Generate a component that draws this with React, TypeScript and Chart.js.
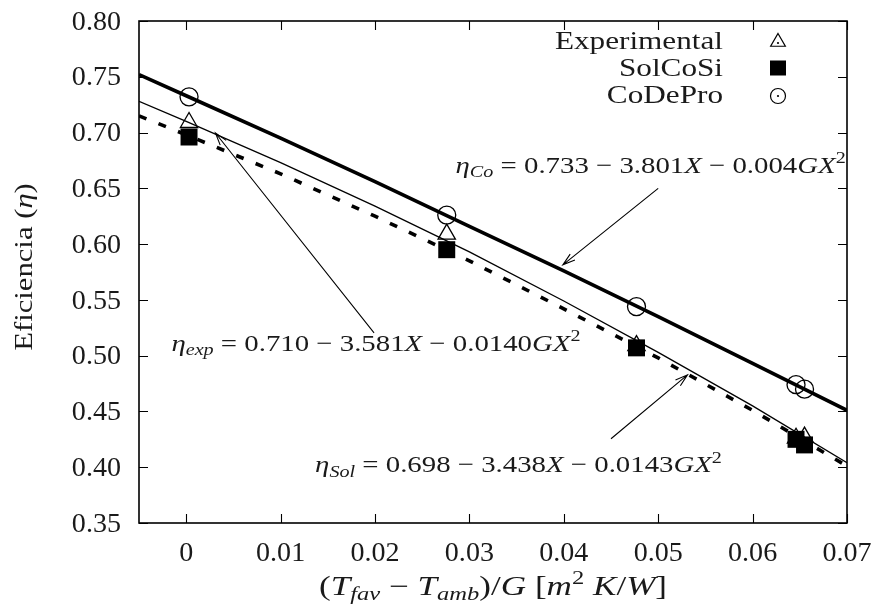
import React, { useEffect, useRef } from 'react';
import { Chart, registerables } from 'chart.js';

Chart.register(...registerables);

// ---- data ----
const X_TICKS = [0, 0.01, 0.02, 0.03, 0.04, 0.05, 0.06, 0.07];
const X_TICK_LABELS = ['0', '0.01', '0.02', '0.03', '0.04', '0.05', '0.06', '0.07'];
const Y_TICKS = [0.35, 0.4, 0.45, 0.5, 0.55, 0.6, 0.65, 0.7, 0.75, 0.8];
const Y_TICK_LABELS = ['0.35', '0.40', '0.45', '0.50', '0.55', '0.60', '0.65', '0.70', '0.75', '0.80'];

const MEAS_X = [0.0003, 0.0276, 0.0477, 0.0646, 0.0655];
const EXP_Y = [0.709, 0.609, 0.509, 0.426, 0.427];
const SOL_Y = [0.696, 0.595, 0.507, 0.425, 0.42];
const CO_Y = [0.732, 0.626, 0.544, 0.474, 0.47];

const FIT_X = [-0.005, 0, 0.01, 0.02, 0.03, 0.04, 0.05, 0.06, 0.07];
const FIT_CO = [0.752, 0.733, 0.695, 0.656, 0.616, 0.576, 0.535, 0.493, 0.451];
const FIT_EXP = [0.728, 0.71, 0.673, 0.634, 0.593, 0.549, 0.503, 0.455, 0.404];
const FIT_SOL = [0.715, 0.698, 0.663, 0.625, 0.585, 0.542, 0.498, 0.451, 0.401];

const LEGEND_LABELS = ['Experimental', 'SolCoSi', 'CoDePro'];

type Seg = { t: string; it?: boolean; sub?: boolean; sup?: boolean };

const LABEL_CO: Seg[] = [
  { t: 'η', it: true }, { t: 'Co', it: true, sub: true }, { t: ' = 0.733 − 3.801' },
  { t: 'X', it: true }, { t: ' − 0.004' }, { t: 'GX', it: true }, { t: '2', sup: true },
];
const LABEL_EXP: Seg[] = [
  { t: 'η', it: true }, { t: 'exp', it: true, sub: true }, { t: ' = 0.710 − 3.581' },
  { t: 'X', it: true }, { t: ' − 0.0140' }, { t: 'GX', it: true }, { t: '2', sup: true },
];
const LABEL_SOL: Seg[] = [
  { t: 'η', it: true }, { t: 'Sol', it: true, sub: true }, { t: ' = 0.698 − 3.438' },
  { t: 'X', it: true }, { t: ' − 0.0143' }, { t: 'GX', it: true }, { t: '2', sup: true },
];
const X_TITLE: Seg[] = [
  { t: '(' }, { t: 'T', it: true }, { t: 'fav', it: true, sub: true }, { t: ' − ' },
  { t: 'T', it: true }, { t: 'amb', it: true, sub: true }, { t: ')/' }, { t: 'G', it: true },
  { t: ' [' }, { t: 'm', it: true }, { t: '2', sup: true }, { t: ' ' }, { t: 'K', it: true },
  { t: '/' }, { t: 'W', it: true }, { t: ']' },
];
const Y_TITLE: Seg[] = [{ t: 'Eficiencia (' }, { t: 'η', it: true }, { t: ')' }];

// annotations in data coordinates
const ANNOTATIONS = [
  { segs: LABEL_CO, at: [0.0492, 0.671], from: [0.05, 0.65], to: [0.0399, 0.5814] },
  { segs: LABEL_EXP, at: [0.0201, 0.5115], from: [0.0199, 0.5204], to: [0.0031, 0.6996] },
  { segs: LABEL_SOL, at: [0.0352, 0.4025], from: [0.045, 0.4255], to: [0.0531, 0.4828] },
];

const FONT = '"Liberation Serif", "Times New Roman", serif';
const TXT = '#1a1a1a';

function segFont(s: Seg, size: number) {
  const sz = s.sub || s.sup ? size * 0.7 : size;
  return `${s.it ? 'italic ' : ''}${sz}px ${FONT}`;
}

function richWidth(ctx: CanvasRenderingContext2D, segs: Seg[], size: number) {
  let w = 0;
  for (const s of segs) {
    ctx.font = segFont(s, size);
    w += ctx.measureText(s.t).width;
  }
  return w;
}

// align: 0 = left, 0.5 = centre, 1 = right
function drawRich(ctx: CanvasRenderingContext2D, segs: Seg[], cx: number, cy: number, size: number, stretch: number, align = 0.5) {
  const w = richWidth(ctx, segs, size) * stretch;
  ctx.save();
  ctx.translate(cx - w * align, cy);
  ctx.scale(stretch, 1);
  ctx.fillStyle = TXT;
  ctx.textAlign = 'left';
  ctx.textBaseline = 'alphabetic';
  const base = size * 0.32;
  let x = 0;
  for (const s of segs) {
    ctx.font = segFont(s, size);
    const dy = s.sub ? size * 0.2 : s.sup ? -size * 0.4 : 0;
    ctx.fillText(s.t, x, base + dy);
    x += ctx.measureText(s.t).width;
  }
  ctx.restore();
}

function drawArrow(ctx: CanvasRenderingContext2D, x1: number, y1: number, x2: number, y2: number) {
  const ang = Math.atan2(y2 - y1, x2 - x1);
  const len = 13;
  const spread = (17 * Math.PI) / 180;
  ctx.beginPath();
  ctx.moveTo(x1, y1);
  ctx.lineTo(x2, y2);
  ctx.moveTo(x2 - len * Math.cos(ang - spread), y2 - len * Math.sin(ang - spread));
  ctx.lineTo(x2, y2);
  ctx.lineTo(x2 - len * Math.cos(ang + spread), y2 - len * Math.sin(ang + spread));
  ctx.stroke();
}

const decorPlugin = {
  id: 'decor',
  afterDatasetsDraw(chart: any) {
    const { ctx, chartArea: a } = chart;
    const xs = chart.scales.x;
    const ys = chart.scales.y;
    ctx.save();

    // arrows
    ctx.strokeStyle = '#000';
    ctx.lineWidth = 1.1;
    for (const an of ANNOTATIONS) {
      drawArrow(
        ctx,
        xs.getPixelForValue(an.from[0]), ys.getPixelForValue(an.from[1]),
        xs.getPixelForValue(an.to[0]), ys.getPixelForValue(an.to[1])
      );
    }
    // equation labels
    for (const an of ANNOTATIONS) {
      drawRich(ctx, an.segs, xs.getPixelForValue(an.at[0]), ys.getPixelForValue(an.at[1]), 24, 1.2);
    }

    // frame
    ctx.strokeStyle = '#000';
    ctx.lineWidth = 1.6;
    ctx.strokeRect(a.left, a.top, a.right - a.left, a.bottom - a.top);
    ctx.lineWidth = 1.1;
    ctx.beginPath();
    for (const v of X_TICKS) {
      const px = Math.round(xs.getPixelForValue(v)) + 0.5;
      ctx.moveTo(px, a.bottom); ctx.lineTo(px, a.bottom - 9);
      ctx.moveTo(px, a.top); ctx.lineTo(px, a.top + 9);
    }
    for (const v of Y_TICKS) {
      const py = Math.round(ys.getPixelForValue(v)) + 0.5;
      ctx.moveTo(a.left, py); ctx.lineTo(a.left + 9, py);
      ctx.moveTo(a.right, py); ctx.lineTo(a.right - 9, py);
    }
    ctx.stroke();

    // tick labels
    X_TICKS.forEach((v, i) => {
      drawRich(ctx, [{ t: X_TICK_LABELS[i] }], xs.getPixelForValue(v), a.bottom + 29, 27, 1.04);
    });
    Y_TICKS.forEach((v, i) => {
      drawRich(ctx, [{ t: Y_TICK_LABELS[i] }], a.left - 18, ys.getPixelForValue(v), 27, 1.04, 1);
    });

    // legend (key, top right)
    const textRight = a.right - 124;
    const symX = a.right - 69;
    const rows = [a.top + 20, a.top + 47, a.top + 74];
    rows.forEach((ry, i) => {
      drawRich(ctx, [{ t: LEGEND_LABELS[i] }], textRight, ry, 26, 1.2, 1);
    });
    ctx.strokeStyle = '#000';
    ctx.fillStyle = '#000';
    ctx.lineWidth = 1.2;
    // triangle
    {
      const cy = rows[0] + 1;
      const r = 8.5;
      ctx.beginPath();
      ctx.moveTo(symX, cy - r);
      ctx.lineTo(symX + r * 0.866, cy + r * 0.5);
      ctx.lineTo(symX - r * 0.866, cy + r * 0.5);
      ctx.closePath();
      ctx.stroke();
      ctx.beginPath();
      ctx.arc(symX, cy + 1, 1.1, 0, Math.PI * 2);
      ctx.fill();
    }
    // square
    ctx.fillRect(symX - 8, rows[1] - 7.5, 16, 15);
    // circle
    {
      const cy = rows[2] + 1;
      ctx.beginPath();
      ctx.arc(symX, cy, 7.5, 0, Math.PI * 2);
      ctx.stroke();
      ctx.beginPath();
      ctx.arc(symX, cy, 1.1, 0, Math.PI * 2);
      ctx.fill();
    }

    // axis titles
    drawRich(ctx, X_TITLE, (a.left + a.right) / 2, a.bottom + 63, 27, 1.3);
    ctx.save();
    ctx.translate(a.left - 115, (a.top + a.bottom) / 2 - 5);
    ctx.rotate(-Math.PI / 2);
    drawRich(ctx, Y_TITLE, 0, 0, 26, 1.18);
    ctx.restore();

    ctx.restore();
  },
};

function pts(xs: number[], ys: number[]) {
  return xs.map((x, i) => ({ x, y: ys[i] }));
}

export default function App() {
  const ref = useRef<HTMLCanvasElement | null>(null);
  useEffect(() => {
    if (!ref.current) return;
    const chart = new Chart(ref.current, {
      type: 'scatter',
      data: {
        datasets: [
          {
            label: 'fitCo', data: pts(FIT_X, FIT_CO), showLine: true, borderColor: '#000',
            borderWidth: 3.6, pointRadius: 0, fill: false, order: 10,
          },
          {
            label: 'fitExp', data: pts(FIT_X, FIT_EXP), showLine: true, borderColor: '#000',
            borderWidth: 1.3, pointRadius: 0, fill: false, order: 10,
          },
          {
            label: 'fitSol', data: pts(FIT_X, FIT_SOL), showLine: true, borderColor: '#000',
            borderWidth: 3.6, borderDash: [8, 13], borderCapStyle: 'butt', pointRadius: 0, fill: false, order: 10,
          },
          {
            label: 'Experimental', data: pts(MEAS_X, EXP_Y), pointStyle: 'triangle', pointRadius: 10,
            borderColor: '#000', backgroundColor: 'rgba(0,0,0,0)', pointBorderWidth: 1.3, order: 3,
          },
          {
            label: 'SolCoSi', data: pts(MEAS_X, SOL_Y), pointStyle: 'rect', pointRadius: 12,
            borderColor: '#000', backgroundColor: '#000', pointBorderWidth: 0, order: 2,
          },
          {
            label: 'CoDePro', data: pts(MEAS_X, CO_Y), pointStyle: 'circle', pointRadius: 9,
            borderColor: '#000', backgroundColor: 'rgba(0,0,0,0)', pointBorderWidth: 1.3, order: 1,
          },
        ] as any,
      },
      options: {
        animation: false,
        responsive: false,
        devicePixelRatio: 1,
        layout: { padding: { left: 0, top: 21, right: 28, bottom: 0 } },
        plugins: { legend: { display: false }, tooltip: { enabled: false } },
        scales: {
          x: {
            type: 'linear', min: -0.005, max: 0.07,
            grid: { display: false, drawTicks: false }, border: { display: false },
            afterBuildTicks: (s: any) => { s.ticks = X_TICKS.map((v) => ({ value: v })); },
            afterFit: (s: any) => { s.height = 87; },
            ticks: { display: false },
          },
          y: {
            type: 'linear', min: 0.35, max: 0.8,
            grid: { display: false, drawTicks: false }, border: { display: false },
            afterBuildTicks: (s: any) => { s.ticks = Y_TICKS.map((v) => ({ value: v })); },
            afterFit: (s: any) => { s.width = 139; },
            ticks: { display: false },
          },
        },
      } as any,
      plugins: [decorPlugin],
    });
    return () => chart.destroy();
  }, []);
  return (
    <div style={{ position: 'absolute', left: 0, top: 0, width: 875, height: 610, background: '#fff' }}>
      <canvas ref={ref} width={875} height={610} style={{ width: 875, height: 610, display: 'block' }} />
    </div>
  );
}
